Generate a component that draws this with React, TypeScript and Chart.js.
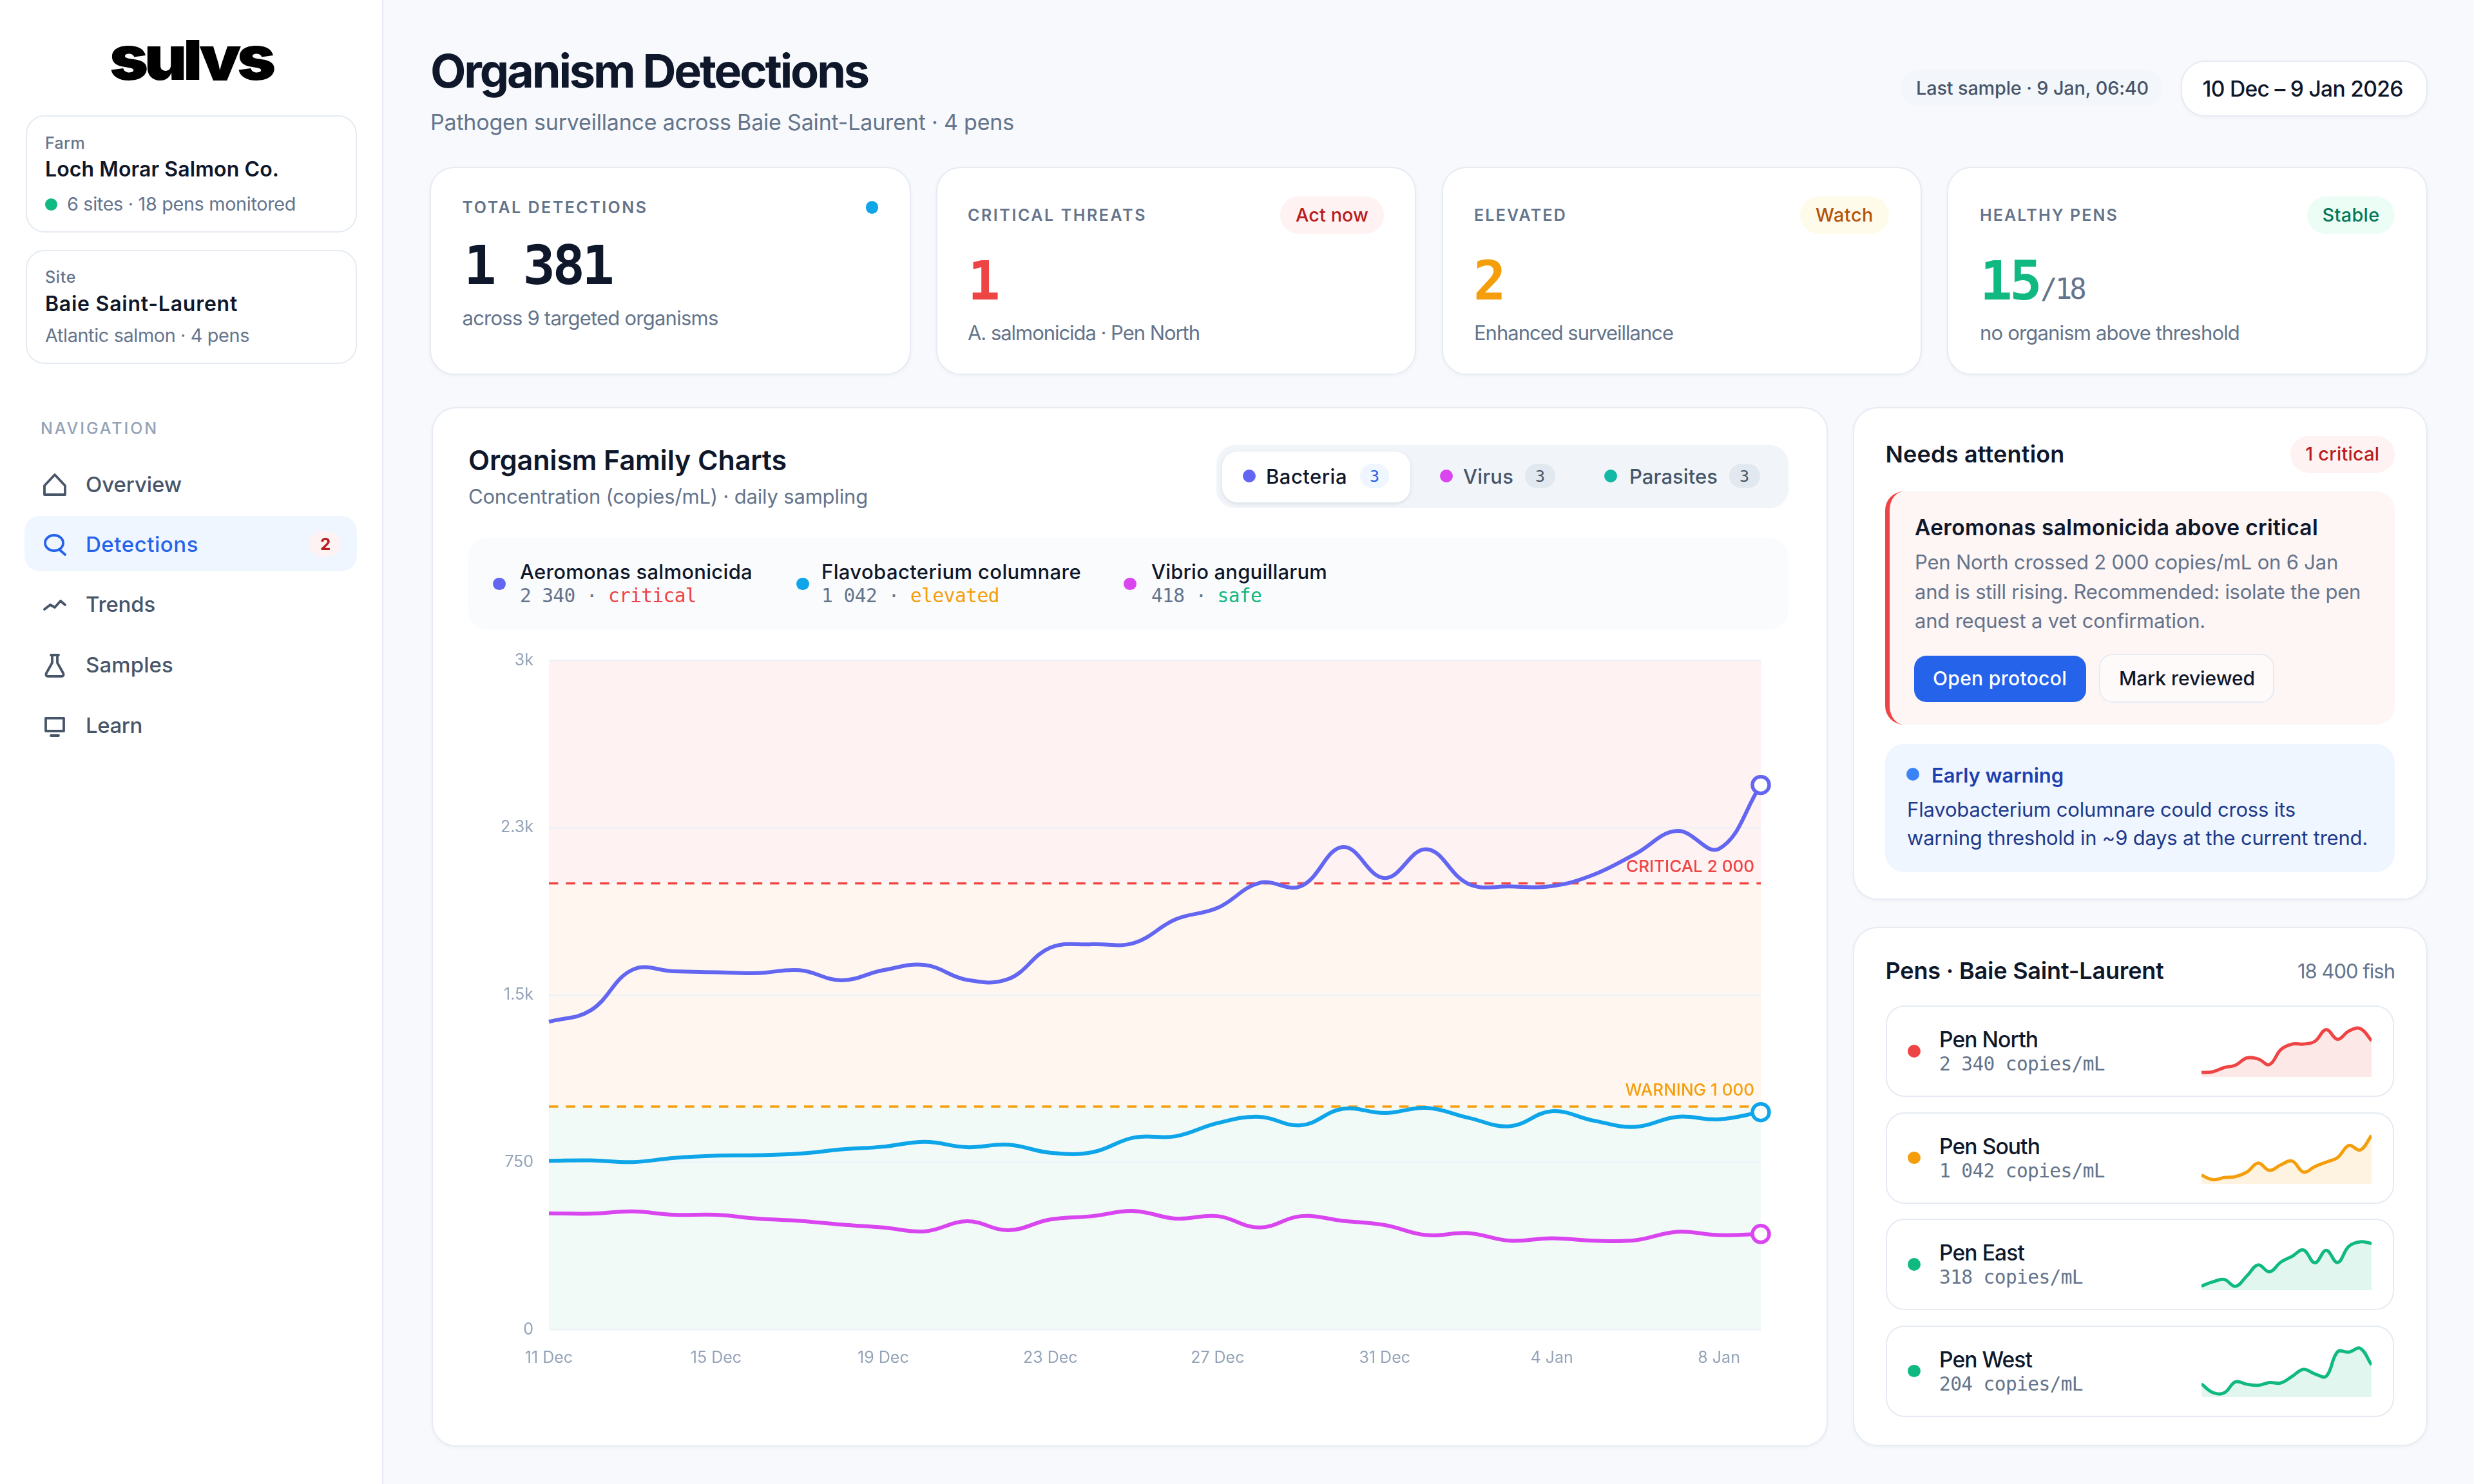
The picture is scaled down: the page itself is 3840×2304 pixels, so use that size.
import React, { useEffect, useLayoutEffect, useRef } from "react";
import { Chart, registerables } from "chart.js";

Chart.register(...registerables);

const days = ["11 Dec","12 Dec","13 Dec","14 Dec","15 Dec","16 Dec","17 Dec","18 Dec","19 Dec","20 Dec","21 Dec","22 Dec","23 Dec","24 Dec","25 Dec","26 Dec","27 Dec","28 Dec","29 Dec","30 Dec","31 Dec","1 Jan","2 Jan","3 Jan","4 Jan","5 Jan","6 Jan","7 Jan","8 Jan","9 Jan"];
const aeromonas = [1380,1431,1613,1606,1602,1598,1611,1566,1611,1634,1568,1572,1712,1727,1733,1839,1890,2002,1988,2163,2024,2153,1998,1986,1988,2039,2132,2235,2155,2441];
const flavobacterium = [757,759,751,770,780,782,789,808,820,842,818,829,793,795,861,867,926,954,916,990,971,994,950,912,979,937,909,954,943,975];
const vibrio = [522,520,530,515,515,498,488,471,458,441,486,446,494,509,532,498,509,458,509,488,469,424,433,399,410,399,401,439,424,429];
const yTickLabels = ["0","750","1.5k","2.3k","3k"];
const yStep = 750;
const yMax = 3000;
const critical = 2000;
const warning = 1000;
const criticalLabel = "CRITICAL 2 000";
const warningLabel = "WARNING 1 000";

const penDays = ["1","2","3","4","5","6","7","8","9","10","11","12","13","14","15","16"];
const penNorth = [13,15,27,34,55,52,36,79,95,95,103,137,109,133,140,105];
const penSouth = [25,12,18,21,34,60,39,55,66,34,50,63,76,111,98,140];
const penEast = [12,24,31,11,41,73,53,81,98,116,79,115,80,127,140,135];
const penWest = [38,13,12,44,37,34,42,41,60,80,67,60,131,130,141,93];

const SANS = "Inter, sans-serif";
const MONO = "'DejaVu Sans Mono', monospace";
const INK = "#0f172a";
const MUTED = "#64748b";
const SLATE = "#475569";
const BORDER = "#e6ebf3";

type TP = { x?: number; r?: number; y: number; s: number; c?: string; wt?: number; w?: number; f?: string; children: React.ReactNode };
function T({ x, r, y, s, c = INK, wt = 400, w, f = SANS, children }: TP) {
  const ref = useRef<HTMLDivElement>(null);
  useLayoutEffect(() => {
    const el = ref.current;
    if (!el || !w) return;
    el.style.letterSpacing = "0px";
    const m = el.getBoundingClientRect().width;
    const n = (el.textContent || "").length;
    el.style.letterSpacing = (w - m) / n + "px";
  }, [w]);
  return (
    <div
      ref={ref}
      style={{
        position: "absolute",
        left: x,
        right: r !== undefined ? 3840 - r : undefined,
        top: y,
        transform: "translateY(-50%)",
        fontFamily: f,
        fontSize: s,
        fontWeight: wt,
        color: c,
        lineHeight: 1,
        whiteSpace: "pre",
      }}
    >
      {children}
    </div>
  );
}

function B({ x, y, x2, y2, bg, rad = 0, bd, sh, style }: { x: number; y: number; x2: number; y2: number; bg?: string; rad?: number; bd?: string; sh?: string; style?: React.CSSProperties }) {
  return (
    <div
      style={{
        position: "absolute",
        left: x,
        top: y,
        width: x2 - x,
        height: y2 - y,
        boxSizing: "border-box",
        background: bg,
        borderRadius: rad,
        border: bd ? `2.4px solid ${bd}` : undefined,
        boxShadow: sh,
        ...style,
      }}
    />
  );
}

const Dot = ({ cx, cy, d, c }: { cx: number; cy: number; d: number; c: string }) => (
  <B x={cx - d / 2} y={cy - d / 2} x2={cx + d / 2} y2={cy + d / 2} bg={c} rad={d} />
);

function Card({ x, y, x2, y2 }: { x: number; y: number; x2: number; y2: number }) {
  return <B x={x - 1.5} y={y - 1} x2={x2 + 1.5} y2={y2 + 1} bg="#fff" rad={38} bd={BORDER} sh="0 2px 6px rgba(15,23,42,.04)" />;
}

function Pill({ x, x2, y, y2, bg, c, label, w, s = 28.8 }: { x: number; x2: number; y: number; y2: number; bg: string; c: string; label: string; w: number; s?: number }) {
  return (
    <>
      <B x={x} y={y} x2={x2} y2={y2} bg={bg} rad={40} />
      <T x={x + (x2 - x - w) / 2} y={(y + y2) / 2} s={s} c={c} wt={500} w={w}>{label}</T>
    </>
  );
}

function Icon({ d, x, y, c = SLATE }: { d: string; x: number; y: number; c?: string }) {
  return (
    <svg style={{ position: "absolute", left: x, top: y }} width={44} height={44} viewBox="0 0 44 44" fill="none" stroke={c} strokeWidth={3.8} strokeLinecap="round" strokeLinejoin="round">
      <path d={d} />
    </svg>
  );
}

const zonesPlugin = {
  id: "zones",
  beforeDraw(chart: any) {
    const { ctx, chartArea: a, scales } = chart;
    const py = (v: number) => scales.y.getPixelForValue(v);
    ctx.save();
    ctx.fillStyle = "#fef2f2";
    ctx.fillRect(a.left, py(yMax), a.right - a.left, py(critical) - py(yMax));
    ctx.fillStyle = "#fff7ef";
    ctx.fillRect(a.left, py(critical), a.right - a.left, py(warning) - py(critical));
    ctx.fillStyle = "#f1faf7";
    ctx.fillRect(a.left, py(warning), a.right - a.left, py(0) - py(warning));
    ctx.restore();
  },
  beforeDatasetsDraw(chart: any) {
    const { ctx, chartArea: a, scales } = chart;
    const lines: [number, string, string][] = [
      [critical, "#ef4444", criticalLabel],
      [warning, "#f59e0b", warningLabel],
    ];
    ctx.save();
    for (const [v, col, label] of lines) {
      const y = scales.y.getPixelForValue(v);
      ctx.strokeStyle = col;
      ctx.lineWidth = 3.6;
      ctx.setLineDash([14.4, 12]);
      ctx.beginPath();
      ctx.moveTo(a.left, y);
      ctx.lineTo(a.right, y);
      ctx.stroke();
      ctx.setLineDash([]);
      ctx.fillStyle = col;
      ctx.font = `500 26px ${SANS}`;
      ctx.textAlign = "right";
      ctx.textBaseline = "middle";
      ctx.fillText(label, a.right - 10, y - 25);
    }
    ctx.restore();
  },
};

function MainChart() {
  const ref = useRef<HTMLCanvasElement>(null);
  useEffect(() => {
    const ln = (label: string, data: number[], color: string) => ({
      label,
      data,
      borderColor: color,
      borderWidth: 6,
      tension: 0.4,
      clip: false as any,
      pointRadius: (c: any) => (c.dataIndex === data.length - 1 ? 13 : 0),
      pointBorderWidth: 5.5,
      pointBackgroundColor: "#fff",
      pointBorderColor: color,
      fill: false,
    });
    const chart = new Chart(ref.current!, {
      type: "line",
      data: {
        labels: days,
        datasets: [ln("Aeromonas salmonicida", aeromonas, "#6366f1"), ln("Flavobacterium columnare", flavobacterium, "#0ea5e9"), ln("Vibrio anguillarum", vibrio, "#d946ef")],
      },
      plugins: [zonesPlugin],
      options: {
        animation: false,
        responsive: false,
        devicePixelRatio: 1,
        layout: { padding: { left: 0, right: 67, top: 9, bottom: 0 } },
        plugins: { legend: { display: false }, tooltip: { enabled: false } },
        scales: {
          x: {
            afterFit: (s: any) => { s.height = 85.5; },
            border: { display: false },
            grid: { display: false },
            ticks: {
              autoSkip: false,
              maxRotation: 0,
              padding: 21,
              color: "#94a3b8",
              font: { family: "Inter", size: 25 },
              callback: (_v: any, i: number) => (i % 4 === 0 ? days[i] : ""),
            },
          },
          y: {
            min: 0,
            max: yMax,
            afterFit: (s: any) => { s.width = 152; },
            border: { display: false },
            grid: { color: "#eef2f7", lineWidth: 2.4, drawTicks: false },
            ticks: {
              stepSize: yStep,
              padding: 24,
              color: "#94a3b8",
              font: { family: "Inter", size: 25 },
              callback: (v: any) => yTickLabels[Math.round(v / yStep)],
            },
          },
        },
      },
    } as any);
    return () => chart.destroy();
  }, []);
  return <canvas ref={ref} width={2100} height={1164} style={{ position: "absolute", left: 700, top: 986, width: 2100, height: 1164 }} />;
}

function Spark({ data, color, fill, top }: { data: number[]; color: string; fill: string; top: number }) {
  const ref = useRef<HTMLCanvasElement>(null);
  useEffect(() => {
    const chart = new Chart(ref.current!, {
      type: "line",
      data: {
        labels: penDays,
        datasets: [{ data, borderColor: color, backgroundColor: fill, borderWidth: 5, tension: 0.4, pointRadius: 0, fill: "origin", clip: false as any }],
      },
      options: {
        animation: false,
        responsive: false,
        devicePixelRatio: 1,
        layout: { padding: 0 },
        plugins: { legend: { display: false }, tooltip: { enabled: false } },
        scales: { x: { display: false }, y: { display: false, min: 0, max: 151 } },
      },
    } as any);
    return () => chart.destroy();
  }, []);
  return <canvas ref={ref} width={264} height={81} style={{ position: "absolute", left: 3417, top, width: 264, height: 81 }} />;
}

const pens = [
  { name: "Pen North", w: 153, val: "2 340 copies/mL", vw: 257, c: "#ef4444", fill: "rgba(239,68,68,.12)", data: penNorth },
  { name: "Pen South", w: 156, val: "1 042 copies/mL", vw: 257, c: "#f59e0b", fill: "rgba(245,158,11,.12)", data: penSouth },
  { name: "Pen East", w: 132, val: "318 copies/mL", vw: 223, c: "#10b981", fill: "rgba(16,185,129,.12)", data: penEast },
  { name: "Pen West", w: 144, val: "204 copies/mL", vw: 223, c: "#10b981", fill: "rgba(16,185,129,.12)", data: penWest },
];

export default function App() {
  return (
    <div style={{ position: "absolute", left: 0, top: 0, width: 3840, height: 2304, overflow: "hidden", background: "#f7f9fc" }}>
      {/* Sidebar */}
      <B x={0} y={0} x2={595} y2={2304} bg="#fff" style={{ borderRight: `2.4px solid ${BORDER}` }} />
      <div style={{ position: "absolute", left: 170, top: 62, width: 300, height: 62.5, overflow: "hidden" }}>
        <div style={{ position: "absolute", left: 0, top: -20, transform: "scaleX(1.08)", transformOrigin: "left center", fontFamily: "Inter", fontWeight: 900, fontSize: 95, letterSpacing: -6, color: "#000", lineHeight: 1 }}>sulys</div>
      </div>

      <B x={39.5} y={179} x2={554} y2={361} bg="#fff" rad={29} bd={BORDER} />
      <T x={70} y={222} s={25} c={MUTED} wt={500} w={62}>Farm</T>
      <T x={70} y={263} s={32} wt={600} w={363}>Loch Morar Salmon Co.</T>
      <Dot cx={79.5} cy={317} d={19} c="#10b981" />
      <T x={104} y={317} s={28.8} c={MUTED} w={355}>6 sites · 18 pens monitored</T>

      <B x={39.5} y={387.5} x2={554} y2={565} bg="#fff" rad={29} bd={BORDER} />
      <T x={70} y={429.5} s={25} c={MUTED} wt={500} w={48}>Site</T>
      <T x={70} y={471.5} s={32} wt={600} w={299}>Baie Saint-Laurent</T>
      <T x={70} y={520.5} s={28.8} c={MUTED} w={317}>Atlantic salmon · 4 pens</T>

      <T x={63} y={665} s={25} c="#94a3b8" wt={500} w={183}>NAVIGATION</T>

      <B x={38} y={801} x2={554} y2={887} bg="#eff6ff" rad={24} />
      <B x={480} y={825} x2={528} y2={864} bg="#fef2f2" rad={20} />
      <T x={497} y={845} s={26} c="#b91c1c" wt={700}>2</T>

      <Icon x={63} y={730} d="M6 38 V24 L22 7 L38 24 V38 Z" />
      <Icon x={63} y={823} c="#2563eb" d="M7 20 a14 12 0 1 0 28 0 a14 12 0 1 0 -28 0 M30 31 L38 38" />
      <Icon x={63} y={914} d="M6 32 L15 25 L22 29 L31 19 L38 25" />
      <Icon x={63} y={1011} d="M16 6 H28 M18 6 V18 L9 34 Q7 39 12 39 H32 Q37 39 35 34 L26 18 V6" />
      <Icon x={63} y={1105} d="M8 10 H36 V30 H8 Z M16 37 H28" />

      <T x={133} y={751.5} s={33} c={SLATE} wt={500} w={149}>Overview</T>
      <T x={133} y={845} s={33} c="#2563eb" wt={500} w={175}>Detections</T>
      <T x={133} y={938} s={33} c={SLATE} wt={500} w={108}>Trends</T>
      <T x={133} y={1032} s={33} c={SLATE} wt={500} w={136}>Samples</T>
      <T x={133} y={1126} s={33} c={SLATE} wt={500} w={88}>Learn</T>

      {/* Header */}
      <T x={668} y={110} s={72} wt={700} w={679}>Organism Detections</T>
      <T x={668} y={190} s={34} c={MUTED} w={906}>Pathogen surveillance across Baie Saint-Laurent · 4 pens</T>
      <B x={2951} y={107.5} x2={3356} y2={165} bg="#f3f6fa" rad={29} />
      <T x={2974} y={137} s={28.8} c={SLATE} wt={500} w={361}>Last sample · 9 Jan, 06:40</T>
      <B x={3385} y={94} x2={3768} y2={181} bg="#fff" rad={38} bd={BORDER} sh="0 2px 6px rgba(15,23,42,.04)" />
      <T x={3418.6} y={137.6} s={33.6} wt={500} w={311}>10 Dec – 9 Jan 2026</T>

      {/* KPI cards */}
      <Card x={668.6} y={260} x2={1412.5} y2={581} />
      <T x={717.5} y={322} s={25} c={MUTED} wt={600} w={288}>TOTAL DETECTIONS</T>
      <Dot cx={1353.7} cy={322} d={19.5} c="#0ea5e9" />
      <T x={720} y={412} s={84} wt={700} f={MONO} w={229}>1 381</T>
      <T x={717.5} y={493} s={31} c={MUTED} w={397}>across 9 targeted organisms</T>

      <Card x={1454} y={260} x2={2196} y2={581} />
      <T x={1502} y={334} s={25} c={MUTED} wt={600} w={278}>CRITICAL THREATS</T>
      <Pill x={1987} x2={2148} y={304.5} y2={362.6} bg="#fef2f2" c="#b91c1c" label="Act now" w={113} />
      <T x={1502} y={436} s={84} c="#ef4444" wt={700} f={MONO}>1</T>
      <T x={1502} y={516} s={31} c={MUTED} w={360}>A. salmonicida · Pen North</T>

      <Card x={2239} y={260} x2={2981.4} y2={581} />
      <T x={2288} y={334} s={25} c={MUTED} wt={600} w={144}>ELEVATED</T>
      <Pill x={2794} x2={2932} y={304.5} y2={362.6} bg="#fffbeb" c="#b45309" label="Watch" w={90} />
      <T x={2287} y={436} s={84} c="#f59e0b" wt={700} f={MONO}>2</T>
      <T x={2288} y={516} s={31} c={MUTED} w={309}>Enhanced surveillance</T>

      <Card x={3023} y={260} x2={3766} y2={581} />
      <T x={3073} y={334} s={25} c={MUTED} wt={600} w={215}>HEALTHY PENS</T>
      <Pill x={3581} x2={3717} y={304.5} y2={362.6} bg="#ecfdf5" c="#047857" label="Stable" w={89} />
      <T x={3073} y={436} s={84} c="#10b981" wt={700} f={MONO} w={92}>15</T>
      <T x={3167} y={449} s={44} c={MUTED} wt={500} f={MONO} w={68}>/18</T>
      <T x={3073} y={516} s={31} c={MUTED} w={403}>no organism above threshold</T>

      {/* Chart panel */}
      <Card x={671} y={633} x2={2835} y2={2245} />
      <T x={727} y={714} s={43} wt={600} w={494}>Organism Family Charts</T>
      <T x={727} y={770} s={31} c={MUTED} w={620}>Concentration (copies/mL) · daily sampling</T>

      <B x={1888} y={691} x2={2776} y2={789} bg="#f1f5f9" rad={29} />
      <B x={1897} y={701} x2={2189} y2={780} bg="#fff" rad={24} sh="0 2px 6px rgba(15,23,42,.1)" />
      <Dot cx={1939} cy={739} d={20} c="#6366f1" />
      <T x={1965} y={739} s={31} wt={500} w={126}>Bacteria</T>
      <B x={2111} y={720} x2={2156} y2={758} bg="#eff6ff" rad={19} />
      <T x={2126} y={739} s={25} c="#2563eb" wt={500} f={MONO}>3</T>
      <Dot cx={2245} cy={739} d={20} c="#d946ef" />
      <T x={2271} y={739} s={31} c={SLATE} wt={500} w={78}>Virus</T>
      <B x={2367} y={720} x2={2414} y2={758} bg="#e2e8f0" rad={19} />
      <T x={2383} y={739} s={25} c={SLATE} wt={500} f={MONO}>3</T>
      <Dot cx={2500} cy={739} d={20} c="#14b8a6" />
      <T x={2529} y={739} s={31} c={SLATE} wt={500} w={137}>Parasites</T>
      <B x={2684} y={720} x2={2732} y2={758} bg="#e2e8f0" rad={19} />
      <T x={2700} y={739} s={25} c={SLATE} wt={500} f={MONO}>3</T>

      <B x={727} y={835} x2={2776} y2={976.6} bg="#fafbfd" rad={29} />
      <Dot cx={775} cy={906.7} d={19.5} c="#6366f1" />
      <T x={807} y={887} s={31} wt={500} w={361}>Aeromonas salmonicida</T>
      <T x={807} y={926} s={29.5} c={MUTED} f={MONO} w={274}>2 340 · <span style={{ color: "#ef4444" }}>critical</span></T>
      <Dot cx={1246} cy={906.7} d={19.5} c="#0ea5e9" />
      <T x={1275} y={887} s={31} wt={500} w={403}>Flavobacterium columnare</T>
      <T x={1275} y={926} s={29.5} c={MUTED} f={MONO} w={276}>1 042 · <span style={{ color: "#f59e0b" }}>elevated</span></T>
      <Dot cx={1754} cy={906.7} d={19.5} c="#d946ef" />
      <T x={1787} y={887} s={31} wt={500} w={273}>Vibrio anguillarum</T>
      <T x={1787} y={926} s={29.5} c={MUTED} f={MONO} w={171}>418 · <span style={{ color: "#10b981" }}>safe</span></T>

      <MainChart />

      {/* Needs attention */}
      <Card x={2877} y={633} x2={3766} y2={1396} />
      <T x={2926.6} y={705} s={36} wt={600} w={278}>Needs attention</T>
      <Pill x={3554.5} x2={3717} y={676.5} y2={734} bg="#fef2f2" c="#b91c1c" label="1 critical" w={115} />
      <B x={2926} y={763} x2={3717} y2={1125} bg="#fef5f5" rad={29} style={{ borderLeft: "7px solid #ef4444" }} />
      <T x={2972} y={819} s={33.6} wt={600} w={626}>Aeromonas salmonicida above critical</T>
      <T x={2972} y={872} s={31} c={MUTED} w={657}>Pen North crossed 2 000 copies/mL on 6 Jan</T>
      <T x={2972} y={918} s={31} c={MUTED} w={692}>and is still rising. Recommended: isolate the pen</T>
      <T x={2972} y={963} s={31} c={MUTED} w={451}>and request a vet confirmation.</T>
      <B x={2971} y={1018} x2={3238} y2={1089.5} bg="#2563eb" rad={19} />
      <T x={3000} y={1053} s={30} c="#fff" wt={500} w={208}>Open protocol</T>
      <B x={3258} y={1015} x2={3530} y2={1091} bg="#fffafa" rad={21} bd={BORDER} />
      <T x={3289} y={1053} s={30} wt={500} w={211}>Mark reviewed</T>

      <B x={2926} y={1154.5} x2={3717} y2={1353.6} bg="#eff6ff" rad={29} />
      <Dot cx={2969} cy={1202.4} d={20} c="#3b82f6" />
      <T x={2998} y={1203} s={31} c="#1e40af" wt={600} w={205}>Early warning</T>
      <T x={2960} y={1256} s={31} c="#1e3a8a" w={603}>Flavobacterium columnare could cross its</T>
      <T x={2960} y={1300} s={31} c="#1e3a8a" w={715}>warning threshold in ~9 days at the current trend.</T>

      {/* Pens */}
      <Card x={2877} y={1440} x2={3766} y2={2244} />
      <T x={2926.6} y={1507} s={36} wt={600} w={432}>Pens · Baie Saint-Laurent</T>
      <T r={3717} y={1507} s={31} c={MUTED} w={151}>18 400 fish</T>
      {pens.map((p, i) => {
        const dy = i * 165.5;
        return (
          <React.Fragment key={p.name}>
            <B x={2926.6} y={1561 + dy} x2={3716.4} y2={1703 + dy} bg="#fff" rad={29} bd={BORDER} />
            <Dot cx={2971} cy={1632 + dy} d={19.5} c={p.c} />
            <T x={3010} y={1614 + dy} s={33.6} wt={500} w={p.w}>{p.name}</T>
            <T x={3010} y={1653 + dy} s={29.5} c={MUTED} f={MONO} w={p.vw}>{p.val}</T>
            <Spark data={p.data} color={p.c} fill={p.fill} top={1591 + dy} />
          </React.Fragment>
        );
      })}
    </div>
  );
}
